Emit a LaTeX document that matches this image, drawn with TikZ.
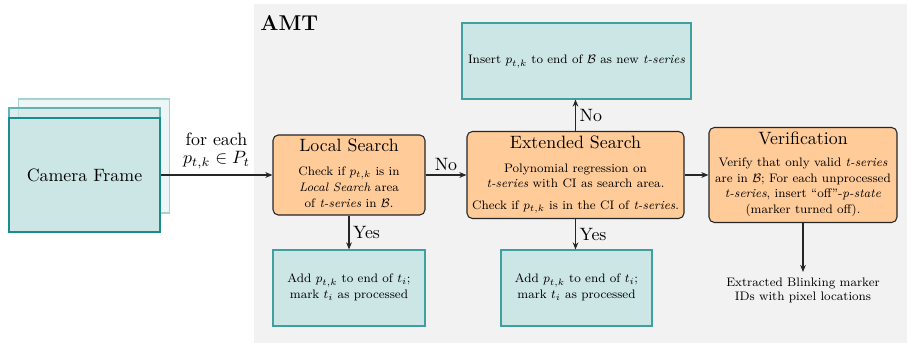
\documentclass[tikz,border=0pt]{standalone}
\usepackage{amsmath,amssymb,graphicx}
\usetikzlibrary{arrows.meta}
\newcommand{\bodytxt}[1]{\scalebox{0.862}{\footnotesize\begin{tabular}[t]{@{}c@{}}#1\end{tabular}}}
\begin{document}
\begin{tikzpicture}[x=0.56pt,y=-0.56pt,
 proc/.style={draw=black!85, fill=orange!40, rounded corners=3pt, align=center, inner sep=2pt, line width=0.6pt},
 res/.style={draw=teal!75, fill=teal!20, align=center, line width=0.6pt, inner sep=2pt},
 framebox/.style={draw=teal!90, fill=teal!20, line width=0.6pt, minimum width=151*0.56pt, minimum height=114*0.56pt, inner sep=0pt},
 arr/.style={-{Stealth[length=4pt,width=3.2pt]}, line width=0.6pt, draw=black!85},
 lab/.style={font=\normalsize, inner sep=2pt}]
\useasboundingbox (0,0) rectangle (907,343);
\fill[gray!10] (254,4) rectangle (907,343);
\node[anchor=base west, font=\large\bfseries, inner sep=0pt] (amt) at (260,31) {AMT};
% camera frames
\node[framebox, draw=teal!35, fill=teal!20, fill opacity=0.35] (back) at (94,156) {};
\node[framebox, draw=teal!60, fill=teal!20, fill opacity=0.7] (mid) at (84.5,165) {};
\node[framebox] (frame) at (84.5,175) {Camera Frame};
% process boxes
\node[proc, minimum width=152*0.56pt, minimum height=76*0.56pt] (local) at (349,175)
 {Local Search\\[1.4pt] \bodytxt{Check if $p_{t,k}$ is in\\[0.9pt] \textit{Local Search} area\\[0.9pt] of \textit{t-series} in $\mathcal{B}$.}};
\node[proc, minimum width=217*0.56pt, minimum height=87*0.56pt] (ext) at (575.5,175)
 {Extended Search\\[1.4pt] \bodytxt{Polynomial regression on\\[0.2pt] \textit{t-series} with CI as search area.\\[4.8pt] Check if $p_{t,k}$ is in the CI of \textit{t-series}.}};
\node[proc, minimum width=188*0.56pt, minimum height=95*0.56pt] (ver) at (803,175)
 {Verification\\[0.3pt] \bodytxt{Verify that only valid \textit{t-series}\\[0.6pt] are in $\mathcal{B}$; For each unprocessed\\[0.6pt] \textit{t-series}, insert “off”-\textit{p-state}\\[0.6pt] (marker turned off).}};
% result boxes
\node[res, minimum width=229*0.56pt, minimum height=76*0.56pt] (ins) at (576.5,61)
 {\bodytxt{Insert $p_{t,k}$ to end of $\mathcal{B}$ as new \textit{t-series}}};
\node[res, minimum width=152*0.56pt, minimum height=76*0.56pt] (add1) at (349,288)
 {\bodytxt{Add $p_{t,k}$ to end of $t_i$;\\[0.9pt] mark $t_i$ as processed}};
\node[res, minimum width=151*0.56pt, minimum height=76*0.56pt] (add2) at (576.5,288)
 {\bodytxt{Add $p_{t,k}$ to end of $t_i$;\\[0.9pt] mark $t_i$ as processed}};
\node[align=center, inner sep=2pt, anchor=north] (out) at (803,272)
 {\bodytxt{Extracted Blinking marker\\[-0.5pt] IDs with pixel locations}};
% connectors
\draw[arr] (frame.east) -- node[lab, above, align=center, yshift=1pt] {for each\\[-1.5pt] $p_{t,k}\in P_t$} (local.west);
\draw[arr] (local.east) -- node[lab, above] {No} (ext.west);
\draw[arr] (ext.north) -- node[lab, right] {No} (ext.north |- ins.south);
\draw[arr] (ext.east) -- (ver.west);
\draw[arr] (ver.south) -- (out.north);
\draw[arr] (local.south) -- node[lab, right] {Yes} (add1.north);
\draw[arr] (ext.south) -- node[lab, right] {Yes} (ext.south |- add2.north);
\end{tikzpicture}
\end{document}
